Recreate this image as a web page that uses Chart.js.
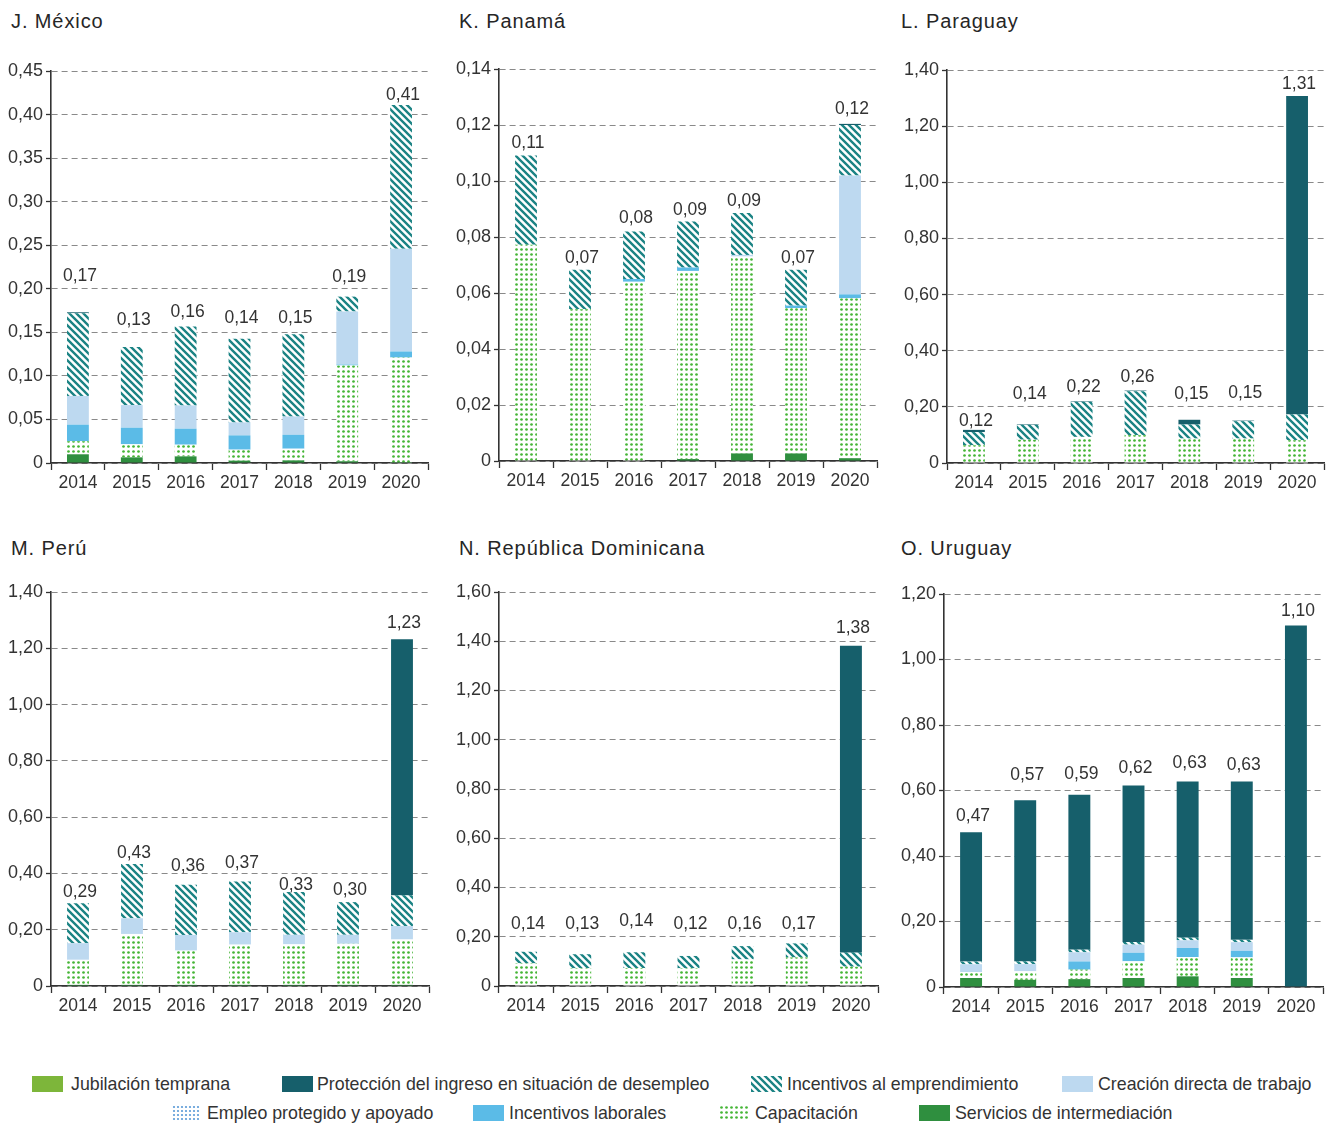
<!DOCTYPE html>
<html>
<head>
<meta charset="utf-8">
<script src="https://cdn.jsdelivr.net/npm/chart.js@4.4.1/dist/chart.umd.min.js"></script>
<style>
  html, body { margin: 0; padding: 0; background: #fff; }
  body { position: relative; width: 1332px; height: 1124px; overflow: hidden;
         font-family: "Liberation Sans", Arial, sans-serif; color: #333; }
  .title { position: absolute; font-size: 20px; line-height: 20px; letter-spacing: 0.9px;
           color: #262626; white-space: nowrap; }
  .box { position: absolute; }
  .lg-text { position: absolute; font-size: 17.8px; line-height: 20px; color: #333; white-space: nowrap; }
  .lg-sw { position: absolute; }
</style>
</head>
<body>
<script>
// ---- categories ----
const years = ['2014', '2015', '2016', '2017', '2018', '2019', '2020'];

// ---- México ----
const mexServicios    = [0.010, 0.0065, 0.0076, 0.0027, 0.003, 0.002, 0.001];
const mexCapacitacion = [0.015, 0.015, 0.0134, 0.0126, 0.0134, 0.110, 0.120];
const mexIncLaborales = [0.019, 0.019, 0.0184, 0.0164, 0.016, 0.001, 0.007];
const mexCreacion     = [0.033, 0.026, 0.0267, 0.0149, 0.021, 0.061, 0.118];
const mexEmprend      = [0.095, 0.0668, 0.0906, 0.096, 0.0944, 0.017, 0.165];
const mexProteccion   = [0.001, 0, 0, 0, 0, 0, 0];

// ---- Panamá ----
const panServicios    = [0, 0, 0, 0.0007, 0.0027, 0.0027, 0.001];
const panCapacitacion = [0.0772, 0.0542, 0.064, 0.0672, 0.0703, 0.0519, 0.0571];
const panIncLaborales = [0, 0, 0.001, 0.0012, 0, 0.0009, 0.0014];
const panCreacion     = [0, 0, 0, 0, 0.0006, 0, 0.0425];
const panEmprend      = [0.0319, 0.0141, 0.017, 0.0164, 0.015, 0.0128, 0.018];
const panProteccion   = [0, 0, 0, 0, 0, 0, 0.0004];

// ---- Paraguay ----
const parCapacitacion = [0.063, 0.083, 0.093, 0.099, 0.087, 0.087, 0.081];
const parEmprend      = [0.047, 0.053, 0.125, 0.157, 0.050, 0.062, 0.092];
const parProteccion   = [0.008, 0.002, 0.002, 0.002, 0.017, 0.002, 1.134];

// ---- Perú ----
const perServicios    = [0.004, 0.004, 0.004, 0.004, 0.004, 0.004, 0.004];
const perCapacitacion = [0.089, 0.181, 0.1217, 0.143, 0.144, 0.146, 0.161];
const perCreacion     = [0.059, 0.0556, 0.0557, 0.044, 0.034, 0.032, 0.048];
const perEmprend      = [0.142, 0.193, 0.178, 0.180, 0.152, 0.116, 0.109];
const perProteccion   = [0, 0, 0, 0, 0, 0, 0.910];

// ---- República Dominicana ----
const rdCapacitacion  = [0.092, 0.072, 0.073, 0.072, 0.108, 0.116, 0.0785];
const rdEmprend       = [0.047, 0.057, 0.064, 0.050, 0.054, 0.057, 0.057];
const rdProteccion    = [0, 0, 0, 0, 0, 0, 1.246];

// ---- Uruguay ----
const uruServicios    = [0.0275, 0.022, 0.024, 0.0275, 0.0326, 0.0275, 0];
const uruCapacitacion = [0.018, 0.026, 0.029, 0.051, 0.059, 0.063, 0];
const uruIncLaborales = [0, 0, 0.025, 0.026, 0.0275, 0.020, 0];
const uruCreacion     = [0.024, 0.022, 0.028, 0.025, 0.0235, 0.0264, 0];
const uruEmprend      = [0.008, 0.008, 0.008, 0.008, 0.008, 0.007, 0];
const uruProteccion   = [0.395, 0.492, 0.473, 0.478, 0.477, 0.4835, 1.104];

// ---- series names (legend order) ----
const seriesNames = {
  jubilacion:  'Jubilación temprana',
  proteccion:  'Protección del ingreso en situación de desempleo',
  emprend:     'Incentivos al emprendimiento',
  creacion:    'Creación directa de trabajo',
  empleoProt:  'Empleo protegido y apoyado',
  incLaborales:'Incentivos laborales',
  capacitacion:'Capacitación',
  servicios:   'Servicios de intermediación'
};

// ---- drawing helpers ----
const FONT = '"Liberation Sans", Arial, sans-serif';
const TEXT = '#333333';

function makeTile(w, h, draw) {
  const c = document.createElement('canvas');
  c.width = w; c.height = h;
  const g = c.getContext('2d');
  g.fillStyle = '#ffffff';
  g.fillRect(0, 0, w, h);
  draw(g);
  return c;
}
function hatchTile() {
  const s = 7;
  return makeTile(s, s, g => {
    g.strokeStyle = '#1b8384';
    g.lineWidth = 2.4;
    g.beginPath();
    for (let k = -1; k <= 1; k++) {
      g.moveTo(-1, k * s - 1);
      g.lineTo(s + 1, s + k * s + 1);
    }
    g.stroke();
  });
}
function dotTile(color, w, h, r) {
  return makeTile(w, h, g => {
    g.fillStyle = color;
    g.beginPath();
    g.arc(w / 2, h / 2, r, 0, Math.PI * 2);
    g.fill();
  });
}
const pctx = document.createElement('canvas').getContext('2d');
const tiles = {
  emprend: hatchTile(),
  capacitacion: dotTile('#45b536', 5, 5, 1.35),
  empleoProt: dotTile('#5a9ad6', 4, 4, 1.1)
};
const fills = {
  jubilacion: '#7db63a',
  proteccion: '#165f6b',
  emprend: pctx.createPattern(tiles.emprend, 'repeat'),
  creacion: '#bdd9f0',
  empleoProt: pctx.createPattern(tiles.empleoProt, 'repeat'),
  incLaborales: '#5bbbe7',
  capacitacion: pctx.createPattern(tiles.capacitacion, 'repeat'),
  servicios: '#2f8f3f'
};

function fmt(v, decimals) {
  if (Math.abs(v) < 1e-9) return '0';
  return v.toFixed(decimals).replace('.', ',');
}

// totals written above each stacked bar
const totalsPlugin = {
  id: 'totals',
  afterDatasetsDraw(chart, args, opts) {
    const { ctx } = chart;
    const x = chart.scales.x, y = chart.scales.y;
    const gaps = opts.gaps || [];
    ctx.save();
    ctx.font = '17.5px ' + FONT;
    ctx.fillStyle = TEXT;
    ctx.textAlign = 'center';
    ctx.textBaseline = 'alphabetic';
    chart.data.labels.forEach((lab, i) => {
      let total = 0;
      chart.data.datasets.forEach(ds => { total += ds.data[i]; });
      const px = x.getPixelForValue(i);
      const py = y.getPixelForValue(total);
      ctx.fillText(fmt(total, 2), px + 2, py - (gaps[i] || 6));
    });
    ctx.restore();
  }
};

// ---- panels: title, plot rectangle [left, top, right, bottom], axis and stack ----
const PAD_TOP = 22, Y_W = 50, X_H = 36, PAD_R = 8;
const panelLayout = [
  { title: 'J. México', tx: 11, ty: 11, plot: [51, 71, 428, 463], max: 0.45, step: 0.05,
    gaps: [31, 22, 9, 16, 11, 15, 5],
    stack: [['servicios', mexServicios], ['capacitacion', mexCapacitacion], ['incLaborales', mexIncLaborales],
            ['creacion', mexCreacion], ['emprend', mexEmprend], ['proteccion', mexProteccion]] },
  { title: 'K. Panamá', tx: 459, ty: 11, plot: [499, 69, 877, 461], max: 0.14, step: 0.02,
    gaps: [8, 7, 8, 7, 7, 7, 10],
    stack: [['servicios', panServicios], ['capacitacion', panCapacitacion], ['incLaborales', panIncLaborales],
            ['creacion', panCreacion], ['emprend', panEmprend], ['proteccion', panProteccion]] },
  { title: 'L. Paraguay', tx: 901, ty: 11, plot: [947, 70, 1324, 463], max: 1.4, step: 0.2,
    gaps: [4, 25, 9, 9, 21, 23, 7],
    stack: [['capacitacion', parCapacitacion], ['emprend', parEmprend], ['proteccion', parProteccion]] },
  { title: 'M. Perú', tx: 11, ty: 538, plot: [51, 592, 429, 986], max: 1.4, step: 0.2,
    gaps: [6, 6, 14, 14, 2, 7, 11],
    stack: [['servicios', perServicios], ['capacitacion', perCapacitacion], ['creacion', perCreacion],
            ['emprend', perEmprend], ['proteccion', perProteccion]] },
  { title: 'N. República Dominicana', tx: 459, ty: 538, plot: [499, 592, 878, 986], max: 1.6, step: 0.2,
    gaps: [23, 25, 26, 27, 17, 14, 13],
    stack: [['capacitacion', rdCapacitacion], ['emprend', rdEmprend], ['proteccion', rdProteccion]] },
  { title: 'O. Uruguay', tx: 901, ty: 538, plot: [944, 594, 1323, 987], max: 1.2, step: 0.2,
    gaps: [11, 20, 16, 12, 13, 12, 9],
    stack: [['servicios', uruServicios], ['capacitacion', uruCapacitacion], ['incLaborales', uruIncLaborales],
            ['creacion', uruCreacion], ['emprend', uruEmprend], ['proteccion', uruProteccion]] }
];

Chart.defaults.font.family = FONT;
Chart.defaults.color = TEXT;

panelLayout.forEach(p => {
  const t = document.createElement('div');
  t.className = 'title';
  t.style.left = p.tx + 'px';
  t.style.top = p.ty + 'px';
  t.textContent = p.title;
  document.body.appendChild(t);

  const [l, tp, r, b] = p.plot;
  const W = (r - l) + Y_W + PAD_R;
  const H = (b - tp) + PAD_TOP + X_H;
  const box = document.createElement('div');
  box.className = 'box';
  box.style.left = (l - Y_W) + 'px';
  box.style.top = (tp - PAD_TOP) + 'px';
  const cv = document.createElement('canvas');
  cv.width = W; cv.height = H;
  cv.style.width = W + 'px'; cv.style.height = H + 'px';
  box.appendChild(cv);
  document.body.appendChild(box);

  const datasets = p.stack.map(([key, values]) => ({
    label: seriesNames[key],
    data: values,
    backgroundColor: fills[key],
    borderWidth: 0,
    barPercentage: 0.405,
    categoryPercentage: 1.0
  }));

  new Chart(cv, {
    type: 'bar',
    data: { labels: years, datasets },
    options: {
      responsive: false,
      animation: false,
      devicePixelRatio: 1,
      layout: { padding: { top: PAD_TOP, right: PAD_R, left: 0, bottom: 0 } },
      plugins: {
        legend: { display: false },
        tooltip: { enabled: false },
        totals: { gaps: p.gaps }
      },
      scales: {
        x: {
          stacked: true,
          offset: true,
          grid: { display: true, offset: true, drawOnChartArea: false, drawTicks: true,
                  tickLength: 7, tickColor: '#333', tickWidth: 1.3 },
          border: { display: true, color: '#333', width: 1.6 },
          ticks: { color: TEXT, font: { size: 17.5 }, padding: 3, autoSkip: false, maxRotation: 0 },
          afterFit(s) { s.height = X_H; }
        },
        y: {
          stacked: true,
          min: 0, max: p.max,
          grid: { display: true, color: '#8a8a8a', lineWidth: 1, drawTicks: true,
                  tickLength: 5, tickColor: '#333', tickWidth: 1.3 },
          border: { display: true, color: '#333', width: 1.6, dash: [6, 4] },
          ticks: { stepSize: p.step, color: TEXT, font: { size: 18 }, padding: 3,
                   callback: v => fmt(v, 2) },
          afterFit(s) { s.width = Y_W; }
        }
      }
    },
    plugins: [totalsPlugin]
  });
});

// ---- legend ----
const legendItems = [
  { key: 'jubilacion',   sw: [32, 1076, 31, 16],  tx: [71, 1074] },
  { key: 'proteccion',   sw: [282, 1076, 31, 16], tx: [317, 1074] },
  { key: 'emprend',      sw: [751, 1076, 31, 16], tx: [787, 1074] },
  { key: 'creacion',     sw: [1062, 1076, 31, 16], tx: [1098, 1074] },
  { key: 'empleoProt',   sw: [172, 1105, 28, 16], tx: [207, 1103] },
  { key: 'incLaborales', sw: [473, 1105, 31, 16], tx: [509, 1103] },
  { key: 'capacitacion', sw: [719, 1105, 30, 16], tx: [755, 1103] },
  { key: 'servicios',    sw: [919, 1105, 31, 16], tx: [955, 1103] }
];
legendItems.forEach(it => {
  const [sx, sy, sw, sh] = it.sw;
  const c = document.createElement('canvas');
  c.className = 'lg-sw';
  c.width = sw; c.height = sh;
  c.style.left = sx + 'px'; c.style.top = sy + 'px';
  const g = c.getContext('2d');
  const f = fills[it.key];
  g.fillStyle = (typeof f === 'string') ? f : g.createPattern(tiles[it.key], 'repeat');
  g.fillRect(0, 0, sw, sh);
  document.body.appendChild(c);
  const s = document.createElement('span');
  s.className = 'lg-text';
  s.style.left = it.tx[0] + 'px'; s.style.top = it.tx[1] + 'px';
  s.textContent = seriesNames[it.key];
  document.body.appendChild(s);
});
</script>
</body>
</html>
